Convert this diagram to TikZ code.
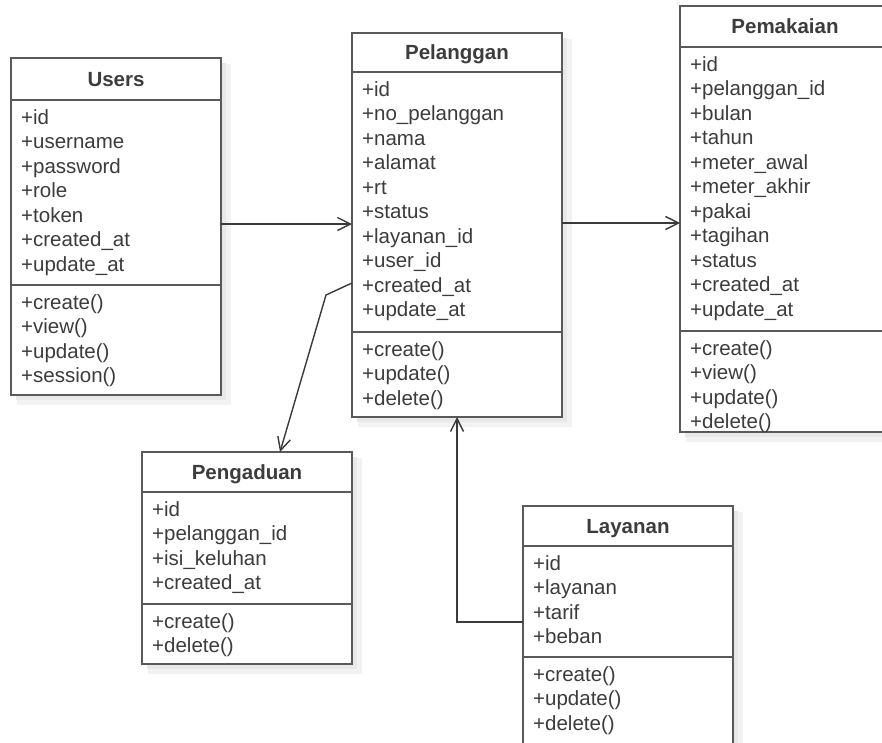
\documentclass[tikz,border=0pt]{standalone}
\usepackage{fontspec}
\setmainfont{Liberation Sans}
\usetikzlibrary{arrows.meta}

\definecolor{boxline}{HTML}{595959}
\definecolor{txt}{HTML}{3C3C3C}
\definecolor{conn}{HTML}{3A3A3A}

\tikzset{
  classbox/.style={draw=boxline, line width=2pt, fill=white, rectangle,
    anchor=north west, minimum width=210pt, inner sep=0pt, outer sep=0pt},
  rulebar/.style={draw=boxline, line width=2pt},
  titletext/.style={font=\fontsize{20.5}{24}\selectfont\bfseries, text=txt,
    inner sep=0pt, anchor=base},
  member/.style={font=\fontsize{20.5}{24}\selectfont, text=txt,
    inner sep=0pt, anchor=base west},
  assoc/.style={draw=conn, line width=1.4pt,
    -{Straight Barb[length=13pt,width=13pt,line width=1.4pt]}},
  shadowA/.style={fill=black!5},
  shadowB/.style={fill=black!9},
}

% #1 name, #2 left x, #3 top y, #4 title rule y, #5 member rule y,
% #6 bottom y, #7 title, #8 attributes, #9 operations
\newcommand\umlclass[9]{%
  \fill[shadowA] (#2+6,#3+6) rectangle (#2+220,#6+10);
  \fill[shadowB] (#2+5,#3+5) rectangle (#2+215,#6+5);
  \node[classbox, minimum height={#6-#3}] (#1) at (#2,#3) {};
  \draw[rulebar] (#2,#4) -- (#2+210,#4);
  \draw[rulebar] (#2,#5) -- (#2+210,#5);
  \node[titletext] (#1-title) at ({#2+105},{(#3+#4)/2+7}) {#7};
  \foreach \t [count=\i] in {#8}
    \node[member] (#1-a\i) at ({#2+10},{#4+24+(\i-1)*24.5}) {\t};
  \foreach \t [count=\i] in {#9}
    \node[member] (#1-m\i) at ({#2+10},{#5+24+(\i-1)*24.5}) {\t};
}

\begin{document}
\begin{tikzpicture}[x=1pt, y=-1pt]
  \useasboundingbox (0,0) rectangle (882,742);
  \clip (0,0) rectangle (882,742);
  \fill[white] (0,0) rectangle (882,742);

  \umlclass{users}{11}{58}{100}{285}{395}{Users}
    {+id, +username, +password, +role, +token, +created\_at, +update\_at}
    {+create(), +view(), +update(), +session()}

  \umlclass{pel}{352}{33}{72}{332}{417}{Pelanggan}
    {+id, +no\_pelanggan, +nama, +alamat, +rt, +status, +layanan\_id,
     +user\_id, +created\_at, +update\_at}
    {+create(), +update(), +delete()}

  \umlclass{pem}{680}{6}{47}{331}{432}{Pemakaian}
    {+id, +pelanggan\_id, +bulan, +tahun, +meter\_awal, +meter\_akhir,
     +pakai, +tagihan, +status, +created\_at, +update\_at}
    {+create(), +view(), +update(), +delete()}

  \umlclass{peng}{142}{452}{492}{604}{664}{Pengaduan}
    {+id, +pelanggan\_id, +isi\_keluhan, +created\_at}
    {+create(), +delete()}

  \umlclass{lay}{523}{506}{546}{657}{750}{Layanan}
    {+id, +layanan, +tarif, +beban}
    {+create(), +update(), +delete()}

  % associations
  \draw[assoc] (users.east |- 0,224) -- (pel.west |- 0,224);
  \draw[assoc] (pel.east |- 0,223) -- (pem.west |- 0,223);
  \coordinate (bend) at (326,295);
  \draw[assoc] (pel.west |- 0,283) -- (bend) -- (peng.north -| 280,0);
  \coordinate (elbow) at (457,622);
  \draw[assoc] (lay.west |- 0,622) -- (elbow) -- (pel.south -| 457,0);
\end{tikzpicture}
\end{document}
